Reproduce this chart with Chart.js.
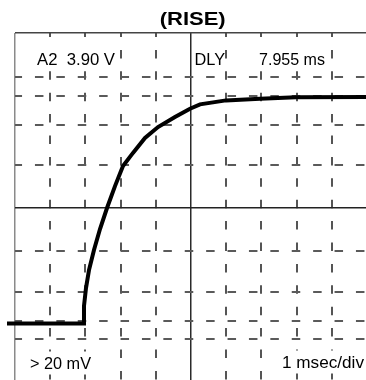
<!DOCTYPE html>
<html>
<head>
<meta charset="utf-8">
<script src="https://cdn.jsdelivr.net/npm/chart.js@4.4.1/dist/chart.umd.min.js"></script>
<style>
  html, body { margin: 0; padding: 0; background: #fff; }
  #wrap { width: 366px; height: 380px; position: relative; }
</style>
</head>
<body>
<div id="wrap"><canvas id="scope"></canvas></div>
<script>
// --- trace (x in divisions, y in divisions from centre) ---
const timeDiv = [-0.227, 1.932, 1.960, 2.017, 2.102, 2.244, 2.415, 2.614, 2.841, 3.068, 3.352,
                 3.693, 4.063, 4.545, 4.972, 5.256, 5.994, 6.960, 7.983, 9.972];
const voltDiv = [-2.64, -2.64, -2.24, -1.83, -1.42, -0.96, -0.48, 0.00, 0.50, 0.96, 1.26,
                 1.60, 1.85, 2.08, 2.27, 2.37, 2.46, 2.50, 2.53, 2.54];

// graticule positions
const xDivs = [0, 1, 2, 3, 4, 5, 6, 7, 8, 9];
const yDivs = [-2.99, -2.58, -1.92, -0.98, 0, 0.98, 1.90, 2.56, 2.99, 4];

// screen readouts
const titleText = '(RISE)';
const chanText = 'A2  3.90 V';
const dlyText = 'DLY';
const dlyValue = '7.955 ms';
const trigText = '> 20 mV';
const timebaseText = '1 msec/div';

const points = timeDiv.map((t, i) => ({ x: t, y: voltDiv[i] }));

// draws text squeezed/stretched to the width it has on the scope photo,
// on a white patch so the graticule doesn't run through it
function fitText(ctx, text, x, y, width, font, mask) {
    ctx.save();
    if (mask) {
        ctx.fillStyle = '#fff';
        ctx.fillRect(x - 1, y - 17, width, 23);
    }
    ctx.font = font;
    ctx.fillStyle = '#000';
    ctx.textBaseline = 'alphabetic';
    const w = ctx.measureText(text).width;
    ctx.translate(x, y);
    ctx.scale(width / w, 1);
    ctx.fillText(text, 0, 0);
    ctx.restore();
}

const screenText = {
    id: 'screenText',
    beforeDatasetsDraw(chart) {
        const ctx = chart.ctx;
        const reg = "16px 'Liberation Sans', Arial, sans-serif";
        fitText(ctx, titleText, 159.7, 24.5, 66, "bold 19px 'Liberation Sans', Arial, sans-serif", false);
        fitText(ctx, chanText, 37, 65, 78, reg, true);
        fitText(ctx, dlyText, 194.5, 65, 30.5, reg, true);
        fitText(ctx, dlyValue, 259, 65, 66, reg, true);
        fitText(ctx, trigText, 30, 368.5, 61, reg, true);
        fitText(ctx, timebaseText, 282, 367.5, 82, reg, true);
    }
};

const DASH = [8.5, 12.9];

new Chart(document.getElementById('scope').getContext('2d'), {
    type: 'scatter',
    data: {
        datasets: [{
            data: points,
            showLine: true,
            borderColor: '#000',
            borderWidth: 4,
            pointRadius: 0,
            tension: 0,
            clip: false
        }]
    },
    options: {
        responsive: true,
        maintainAspectRatio: false,
        animation: false,
        layout: { padding: { left: 15, top: 33, right: 0, bottom: 0 } },
        plugins: { legend: { display: false }, title: { display: false }, tooltip: { enabled: false } },
        scales: {
            x: {
                type: 'linear',
                min: 0,
                max: 9.972,
                afterBuildTicks: s => { s.ticks = xDivs.map(v => ({ value: v })); },
                ticks: { display: false },
                grid: {
                    drawTicks: false,
                    color: c => c.tick.value === 0 ? '#8a8a8a' : (c.tick.value === 5 ? '#2a2a2a' : '#555'),
                    lineWidth: c => c.tick.value === 0 ? 1.5 : (c.tick.value === 5 ? 1.5 : 2)
                },
                border: {
                    display: false,
                    dash: c => (c.tick && (c.tick.value === 0 || c.tick.value === 5)) ? [] : DASH,
                    dashOffset: 4.5
                }
            },
            y: {
                type: 'linear',
                min: -3.931,
                max: 4,
                afterBuildTicks: s => { s.ticks = yDivs.map(v => ({ value: v })); },
                ticks: { display: false },
                grid: {
                    drawTicks: false,
                    color: c => c.tick.value === 0 ? '#222' : (c.tick.value === 4 ? '#444' : '#5a5a5a'),
                    lineWidth: c => (c.tick.value === 0 || c.tick.value === 4) ? 1.5 : 2
                },
                border: {
                    display: false,
                    dash: c => (c.tick && (c.tick.value === 0 || c.tick.value === 4)) ? [] : DASH,
                    dashOffset: 1.45
                }
            }
        }
    },
    plugins: [screenText]
});
</script>
</body>
</html>
